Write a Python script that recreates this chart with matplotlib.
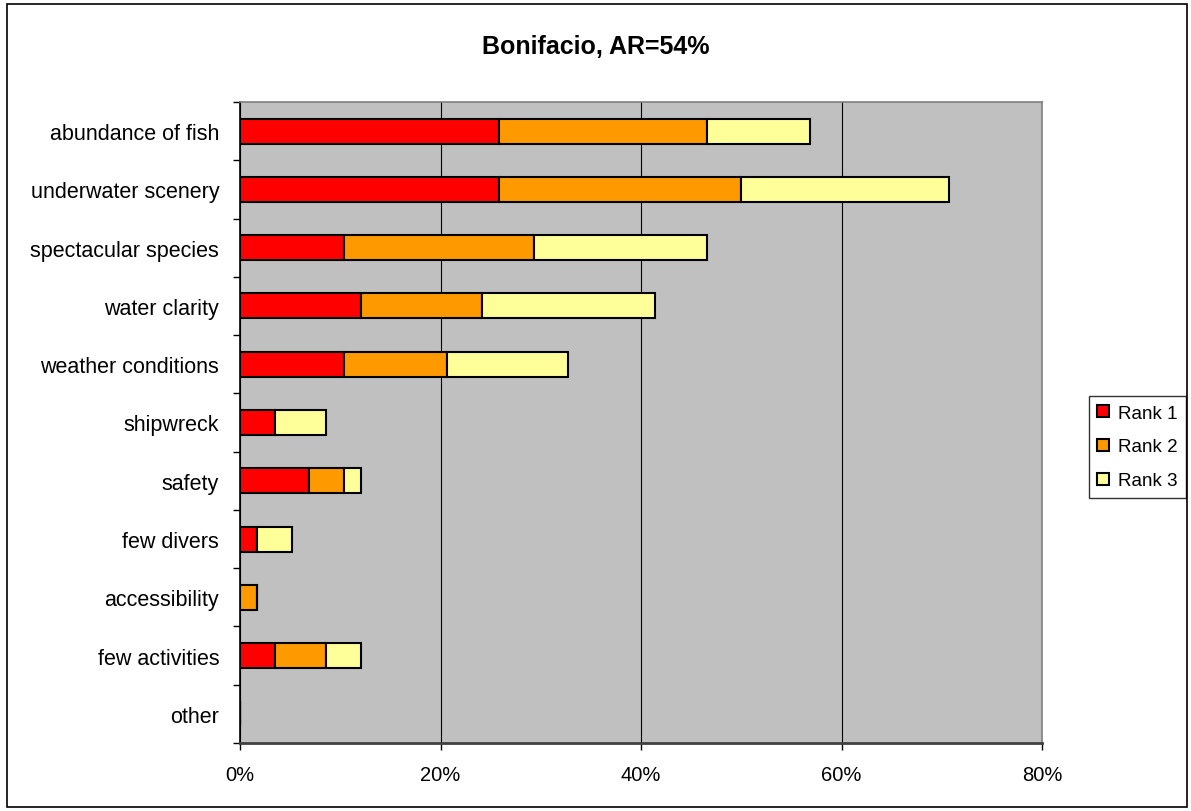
import numpy as np
import matplotlib
matplotlib.use("Agg")
import matplotlib.pyplot as plt
from matplotlib.patches import Rectangle
from matplotlib.ticker import FuncFormatter, MultipleLocator

plt.rcParams['font.family'] = ['Liberation Sans', 'DejaVu Sans']

# percentages of respondents (N = 58)
categories = ["abundance of fish", "underwater scenery", "spectacular species",
              "water clarity", "weather conditions", "shipwreck", "safety",
              "few divers", "accessibility", "few activities", "other"]
rank1 = [25.86, 25.86, 10.34, 12.07, 10.34, 3.45, 6.90, 1.72, 0.00, 3.45, 0.0]
rank2 = [20.69, 24.14, 18.97, 12.07, 10.34, 0.00, 3.45, 0.00, 1.72, 5.17, 0.0]
rank3 = [10.34, 20.69, 17.24, 17.24, 12.07, 5.17, 1.72, 3.45, 0.00, 3.45, 0.0]
series_names = ["Rank 1", "Rank 2", "Rank 3"]
colors = ["#FF0000", "#FF9900", "#FFFF99"]

W, H = 1191, 812
fig = plt.figure(figsize=(W / 100, H / 100), dpi=100)
ax = fig.add_axes([240 / W, 1 - 744 / H, (1042 - 240) / W, (744 - 103) / H])

# outer chart frame
fig.patches.append(Rectangle((7 / W, 4 / H), 1180 / W, 803 / H, transform=fig.transFigure,
                             fill=False, edgecolor='black', linewidth=1.2))

y = np.arange(len(categories))
left = np.zeros(len(categories))
for vals, name, c in zip([rank1, rank2, rank3], series_names, colors):
    vals = np.array(vals)
    ax.barh(y, vals, left=left, height=0.43, color=c, edgecolor='black',
            linewidth=1.5, label=name, zorder=3)
    left += vals

ax.set_facecolor('#C0C0C0')
ax.set_xlim(0, 80)
ax.set_ylim(len(categories) - 0.5, -0.5)
ax.xaxis.set_major_locator(MultipleLocator(20))
ax.xaxis.set_major_formatter(FuncFormatter(lambda v, p: f"{v:.0f}%"))
ax.grid(axis='x', color='black', linewidth=0.8, zorder=1)
ax.set_axisbelow(True)

ax.set_yticks(y)
ax.set_yticklabels(categories)
ax.set_yticks(np.arange(-0.5, len(categories), 1), minor=True)
ax.tick_params(axis='y', which='major', length=0, pad=15, labelsize=15.5)
ax.tick_params(axis='y', which='minor', length=5, width=1, direction='out')
ax.tick_params(axis='x', which='major', length=5, width=1, direction='out',
               labelsize=14.5, pad=11)

for s in ['top', 'right']:
    ax.spines[s].set_color('#808080')
    ax.spines[s].set_linewidth(1.2)
ax.spines['left'].set_color('black')
ax.spines['left'].set_linewidth(1.2)
ax.spines['bottom'].set_color('#404040')
ax.spines['bottom'].set_linewidth(2)

fig.text(596 / W, 1 - 47 / H, "Bonifacio, AR=54%", ha='center', va='center',
         fontsize=18, fontweight='bold')

leg = ax.legend(loc='center left', bbox_to_anchor=(1089 / W, 1 - 448 / H),
                bbox_transform=fig.transFigure, frameon=True, fancybox=False,
                edgecolor='black', fontsize=13.5, handlelength=0.6, handleheight=0.6,
                handletextpad=0.5, labelspacing=0.9, borderpad=0.45,
                borderaxespad=0)
leg.get_frame().set_linewidth(1)

fig.savefig("out.png", dpi=100)
